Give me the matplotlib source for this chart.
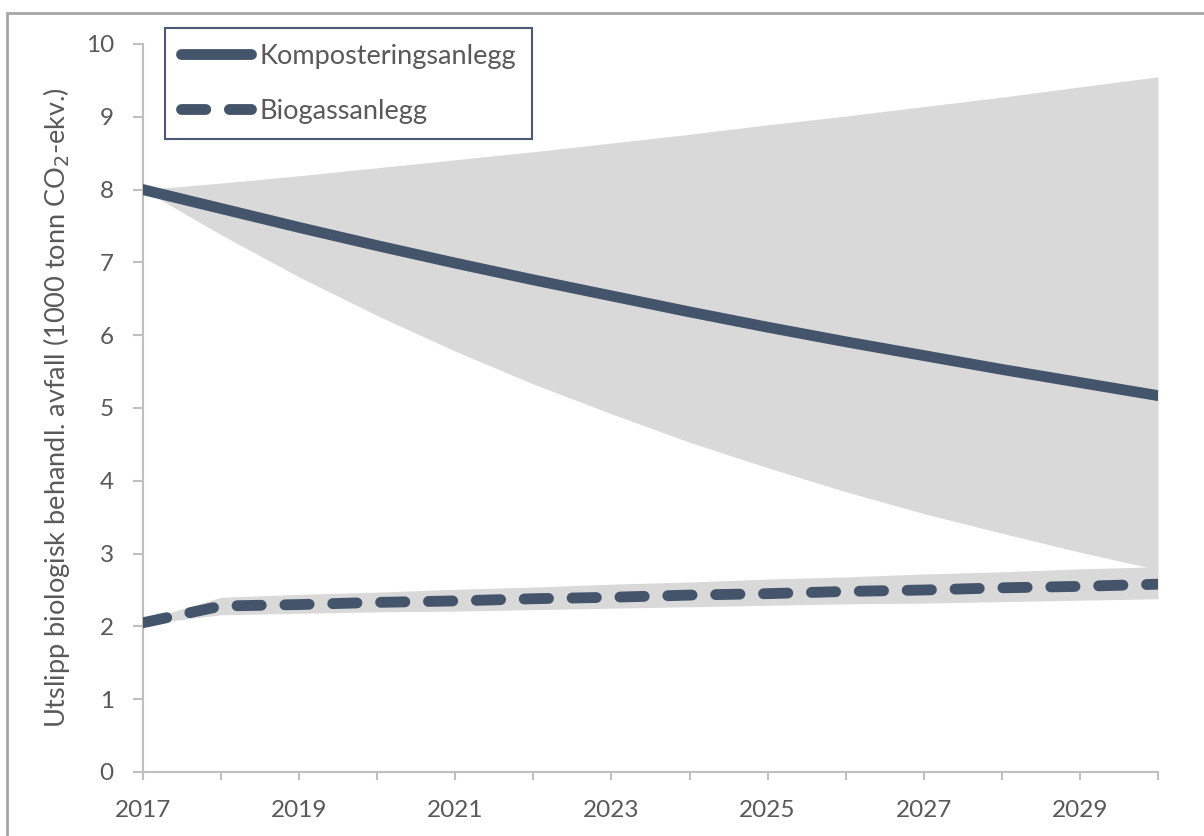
import numpy as np
import matplotlib.pyplot as plt
from matplotlib.patches import Rectangle
from matplotlib.lines import Line2D

plt.rcParams['font.family'] = ['Lato', 'DejaVu Sans']

years = np.arange(2017, 2031)

# Komposteringsanlegg: central estimate and uncertainty band
kompost = [8.00, 7.74, 7.48, 7.23, 6.99, 6.76, 6.54, 6.32, 6.11, 5.91, 5.72, 5.53, 5.35, 5.17]
kompost_high = [8.00, 8.09, 8.19, 8.30, 8.41, 8.52, 8.64, 8.76, 8.89, 9.01, 9.14, 9.27, 9.41, 9.55]
kompost_low = [8.00, 7.38, 6.80, 6.27, 5.78, 5.33, 4.92, 4.53, 4.18, 3.85, 3.55, 3.28, 3.02, 2.78]

# Biogassanlegg: central estimate and uncertainty band
biogass = [2.05, 2.28, 2.30, 2.33, 2.35, 2.38, 2.40, 2.43, 2.45, 2.48, 2.50, 2.53, 2.55, 2.58]
biogass_high = [2.08, 2.40, 2.44, 2.47, 2.51, 2.54, 2.58, 2.61, 2.65, 2.68, 2.72, 2.75, 2.79, 2.82]
biogass_low = [2.03, 2.16, 2.18, 2.20, 2.21, 2.23, 2.25, 2.27, 2.29, 2.31, 2.32, 2.34, 2.36, 2.38]

line_color = '#44546A'
band_color = '#D9D9D9'
text_color = '#595959'
axis_color = '#BFBFBF'
lw = 7.8
dash = (2.24, 2.18)

fig = plt.figure(figsize=(12.04, 8.36), dpi=100)
ax = fig.add_axes([143 / 1204, 64 / 836, 1015 / 1204, 728 / 836])

# outer chart border
fig.patches.append(Rectangle((7 / 1204, -0.05), 1.2, (836 - 13) / 836 + 0.05,
                             transform=fig.transFigure, fill=False,
                             edgecolor='#A6A6A6', linewidth=2))

ax.fill_between(years, kompost_low, kompost_high, color=band_color, linewidth=0, zorder=1)
ax.fill_between(years, biogass_low, biogass_high, color=band_color, linewidth=0, zorder=1)

ax.plot(years, kompost, color=line_color, linewidth=lw, solid_capstyle='round', zorder=3)
ax.plot(years, biogass, color=line_color, linewidth=lw, dashes=dash,
        dash_capstyle='round', zorder=3)

ax.set_xlim(2017, 2030)
ax.set_ylim(0, 10)
ax.set_xticks(range(2017, 2030, 2))
ax.set_xticks(range(2017, 2031), minor=True)
ax.set_yticks(range(0, 11))

for s in ['top', 'right']:
    ax.spines[s].set_visible(False)
for s in ['left', 'bottom']:
    ax.spines[s].set_color(axis_color)
    ax.spines[s].set_linewidth(1.5)

ax.tick_params(axis='both', which='both', color=axis_color, width=1.5,
               labelsize=17.5, labelcolor=text_color)
ax.tick_params(axis='x', which='both', length=6)
ax.tick_params(axis='x', which='major', pad=14)
ax.tick_params(axis='y', length=7, pad=14)

ax.set_ylabel('Utslipp biologisk behandl. avfall (1000 tonn CO$_2$-ekv.)',
              fontsize=19.5, color=text_color, labelpad=10)

handles = [Line2D([], [], color=line_color, linewidth=lw, solid_capstyle='round'),
           Line2D([], [], color=line_color, linewidth=lw, dashes=dash,
                  dash_capstyle='round')]
leg = fig.legend(handles, ['Komposteringsanlegg', 'Biogassanlegg'],
                 loc='upper left', bbox_to_anchor=(165 / 1204, 1 - 28 / 836),
                 fontsize=19.5, labelcolor=text_color, frameon=True, fancybox=False,
                 handlelength=2.6, handletextpad=0.3, labelspacing=1.1,
                 borderpad=0.58, borderaxespad=0)
leg.get_frame().set_edgecolor('#1F3050')
leg.get_frame().set_linewidth(1.5)

fig.savefig('out.png', dpi=100)
